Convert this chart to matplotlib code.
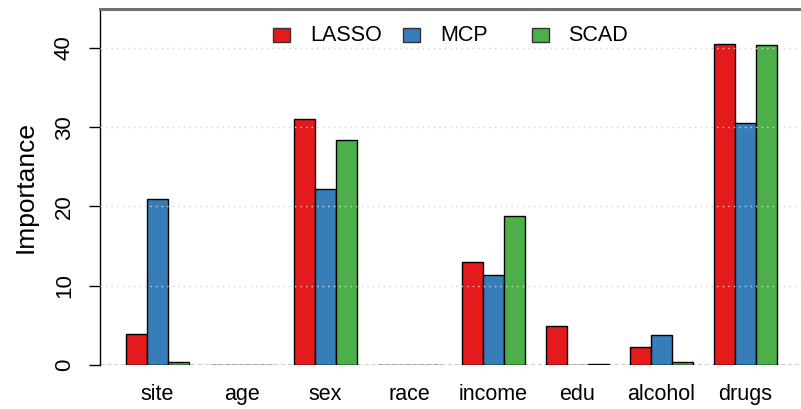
import matplotlib
matplotlib.use("Agg")
import matplotlib.pyplot as plt
from matplotlib.patches import Rectangle
import numpy as np

plt.rcParams['font.family'] = ['Liberation Sans', 'DejaVu Sans']

# variable importance
variables = ["site", "age", "sex", "race", "income", "edu", "alcohol", "drugs"]
lasso = [3.9, 0.0, 31.0, 0.0, 13.0, 4.9, 2.3, 40.5]
mcp = [20.9, 0.0, 22.2, 0.0, 11.3, 0.0, 3.8, 30.5]
scad = [0.4, 0.0, 28.4, 0.0, 18.8, 0.1, 0.4, 40.4]
methods = ["LASSO", "MCP", "SCAD"]
colors = ["#E41A1C", "#377EB8", "#4DAF4A"]
yticks = [0, 10, 20, 30, 40]

fig = plt.figure(figsize=(8.01, 4.09), dpi=100)
ax = fig.add_axes([100 / 801, 44 / 409, 701 / 801, 356 / 409])

# R-style beside barplot: each group = space of 1 + 3 bars of width 1
n = len(variables)
starts = 1 + 4 * np.arange(n)
for k, vals in enumerate([lasso, mcp, scad]):
    ax.bar(starts + k, vals, width=1.0, align='edge', color=colors[k],
           edgecolor='black', linewidth=1.0, zorder=2)

# dotted grid on top of bars, dashed baseline
for t in yticks[1:]:
    ax.axhline(t, color='#d4d4d4', lw=1.0, ls=(0, (1, 3)), zorder=4)
ax.axhline(0, color='black', lw=1.0, ls=(0, (3, 2)), zorder=3)

ax.set_xlim(-0.238, 33.14)
ax.set_ylim(0, 44.9)

ax.set_xticks(starts + 1.5)
ax.set_xticklabels(variables, fontsize=15.5)
ax.tick_params(axis='x', length=0, pad=14)
ax.set_yticks(yticks)
ax.set_yticklabels([str(t) for t in yticks], fontsize=16, rotation=90,
                   va='center')
ax.tick_params(axis='y', length=8, width=1, pad=10)
ax.set_ylabel("Importance", fontsize=19, labelpad=12)

ax.spines['right'].set_visible(False)
ax.spines['bottom'].set_visible(False)
ax.spines['left'].set_linewidth(1.0)
ax.spines['top'].set_color('#707070')
ax.spines['top'].set_linewidth(2.2)

# legend drawn as in R's horizontal legend (equal column widths)
leg_box_x = [8.0, 14.19, 20.33]
leg_txt_x = [9.76, 15.95, 22.05]
for k in range(3):
    ax.add_patch(Rectangle((leg_box_x[k], 40.7), 0.82, 1.75,
                           facecolor=colors[k], edgecolor='#333333',
                           lw=1.0, zorder=5, clip_on=False))
    ax.text(leg_txt_x[k], 41.6, methods[k], fontsize=15.5, va='center',
            ha='left', zorder=5)

fig.savefig("out.png", dpi=100)
